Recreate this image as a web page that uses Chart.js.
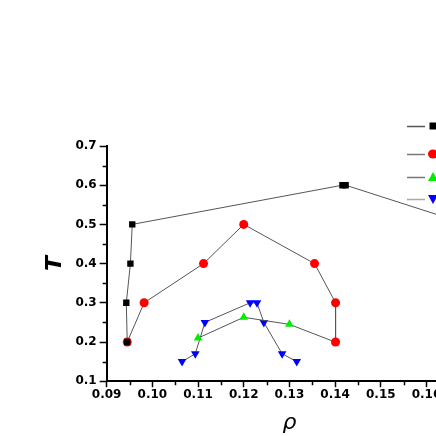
<!DOCTYPE html>
<html>
<head>
<meta charset="utf-8">
<script src="https://cdn.jsdelivr.net/npm/chart.js@4/dist/chart.umd.min.js"></script>
<style>
    html, body { margin: 0; padding: 0; background: #fff; overflow: hidden; }
    #wrap { width: 436px; height: 436px; overflow: hidden; position: relative; }
    #box { width: 487px; height: 436px; position: absolute; left: 0; top: 0; }
</style>
</head>
<body>
<div id="wrap"><div id="box"><canvas id="chart"></canvas></div></div>
<script>
// series values (rho, T)
const blackRho = [0.0945, 0.0943, 0.0952, 0.0956, 0.1416, 0.1423, 0.169];
const blackT   = [0.2, 0.3, 0.4, 0.5, 0.6, 0.6, 0.5];
const redRho   = [0.0945, 0.0982, 0.1112, 0.1200, 0.1355, 0.1401, 0.1401];
const redT     = [0.2, 0.3, 0.4, 0.5, 0.4, 0.3, 0.2];
const greenRho = [0.110, 0.120, 0.130, 0.140];
const greenT   = [0.21, 0.263, 0.245, 0.2];
const blueRho  = [0.1065, 0.1094, 0.1115, 0.1214, 0.1229, 0.1244, 0.1284, 0.1316];
const blueT    = [0.15, 0.17, 0.25, 0.3, 0.3, 0.25, 0.17, 0.15];

const xTicks = [0.09, 0.10, 0.11, 0.12, 0.13, 0.14, 0.15, 0.16, 0.17];
const yTicks = [0.1, 0.2, 0.3, 0.4, 0.5, 0.6, 0.7];

const colors = {
    line: '#555555',
    black: '#000000',
    red: '#ff0000',
    green: '#00ee00',
    blue: '#0000ff'
};

const tickFont = { family: 'DejaVu Sans', size: 12, weight: 'bold' };

function pts(xs, ys) {
    return xs.map((x, i) => ({ x: x, y: ys[i] }));
}

function series(xs, ys, color, style, radius, rotation) {
    return {
        data: pts(xs, ys),
        borderColor: colors.line,
        borderWidth: 1,
        backgroundColor: color,
        pointBackgroundColor: color,
        pointBorderColor: color,
        pointBorderWidth: 0,
        pointStyle: style,
        pointRadius: radius,
        pointRotation: rotation || 0,
        tension: 0
    };
}

// minor ticks + legend stub (Origin style)
const extras = {
    id: 'extras',
    afterDraw(chart) {
        const ctx = chart.ctx;
        const xs = chart.scales.x, ys = chart.scales.y;
        ctx.save();
        ctx.strokeStyle = '#000';
        ctx.lineWidth = 1.5;
        ctx.beginPath();
        for (let i = 0; i < xTicks.length - 1; i++) {
            const px = Math.round(xs.getPixelForValue((xTicks[i] + xTicks[i + 1]) / 2)) + 0.5;
            ctx.moveTo(px, ys.bottom);
            ctx.lineTo(px, ys.bottom + 4);
        }
        for (let i = 0; i < yTicks.length - 1; i++) {
            const py = Math.round(ys.getPixelForValue((yTicks[i] + yTicks[i + 1]) / 2)) + 0.5;
            ctx.moveTo(xs.left, py);
            ctx.lineTo(xs.left - 4, py);
        }
        ctx.stroke();

        // legend
        const rows = [
            { y: 126, color: colors.black, style: 'rect', line: '#555' },
            { y: 154, color: colors.red, style: 'circle', line: '#777' },
            { y: 177, color: colors.green, style: 'triangle', line: '#777' },
            { y: 199, color: colors.blue, style: 'down', line: '#aaa' }
        ];
        rows.forEach(r => {
            ctx.strokeStyle = r.line;
            ctx.lineWidth = 1.5;
            ctx.beginPath();
            ctx.moveTo(407, r.y + 0.5);
            ctx.lineTo(425, r.y + 0.5);
            ctx.stroke();
            ctx.fillStyle = r.color;
            ctx.beginPath();
            const cx = 433, cy = r.y;
            if (r.style === 'rect') {
                ctx.rect(cx - 3.5, cy - 3.5, 7, 7);
            } else if (r.style === 'circle') {
                ctx.ellipse(cx, cy, 5, 4.5, 0, 0, Math.PI * 2);
            } else if (r.style === 'triangle') {
                ctx.moveTo(cx, cy - 5);
                ctx.lineTo(cx + 5, cy + 4);
                ctx.lineTo(cx - 5, cy + 4);
            } else {
                ctx.moveTo(cx, cy + 5);
                ctx.lineTo(cx + 5, cy - 4);
                ctx.lineTo(cx - 5, cy - 4);
            }
            ctx.fill();
        });
        ctx.restore();
    }
};

const ctx = document.getElementById('chart').getContext('2d');
new Chart(ctx, {
    type: 'line',
    data: {
        datasets: [
            series(blackRho, blackT, colors.black, 'rect', 4.5),
            series(redRho, redT, colors.red, 'circle', 4.5),
            series(greenRho, greenT, colors.green, 'triangle', 5),
            series(blueRho, blueT, colors.blue, 'triangle', 5, 180)
        ]
    },
    options: {
        responsive: true,
        maintainAspectRatio: false,
        animation: false,
        layout: { padding: { top: 146, left: 42, right: 0, bottom: 0 } },
        plugins: {
            legend: { display: false },
            tooltip: { enabled: false }
        },
        scales: {
            x: {
                type: 'linear',
                min: 0.09,
                max: 0.17,
                afterBuildTicks: axis => { axis.ticks = xTicks.map(v => ({ value: v })); },
                border: { display: true, color: '#000', width: 2 },
                grid: { display: true, drawOnChartArea: false, drawTicks: true, tickLength: 6, tickColor: '#000', tickWidth: 1.5 },
                ticks: {
                    color: '#000',
                    font: tickFont,
                    padding: 0,
                    maxRotation: 0,
                    callback: v => v.toFixed(2)
                },
                title: {
                    display: true,
                    text: 'ρ',
                    color: '#000',
                    font: { family: 'DejaVu Sans', size: 22, style: 'italic' },
                    padding: { top: 8, bottom: 0 }
                }
            },
            y: {
                type: 'linear',
                min: 0.1,
                max: 0.7,
                afterBuildTicks: axis => { axis.ticks = yTicks.map(v => ({ value: v })); },
                border: { display: true, color: '#000', width: 2 },
                grid: { display: true, drawOnChartArea: false, drawTicks: true, tickLength: 7, tickColor: '#000', tickWidth: 1.5 },
                ticks: {
                    color: '#000',
                    font: tickFont,
                    padding: 3,
                    callback: v => v.toFixed(1)
                },
                title: {
                    display: true,
                    text: 'T',
                    color: '#000',
                    font: { family: 'DejaVu Sans', size: 22, weight: 'bold', style: 'italic' },
                    padding: { top: 0, bottom: 4 }
                }
            }
        }
    },
    plugins: [extras]
});
</script>
</body>
</html>
